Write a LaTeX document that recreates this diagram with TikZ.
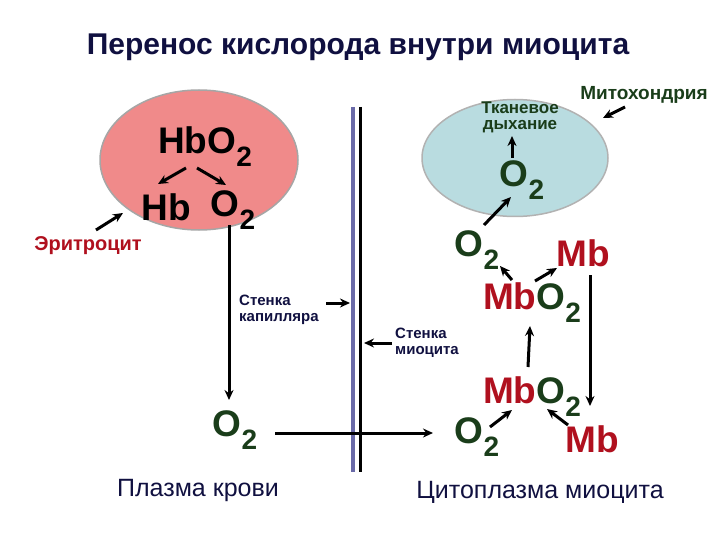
\documentclass[tikz,border=0pt]{standalone}
\usepackage{fontspec}
\setmainfont{Liberation Sans}
\usetikzlibrary{shapes.geometric,arrows.meta}
\definecolor{dgreen}{HTML}{1A3D1A}
\definecolor{dred}{HTML}{B0101E}
\definecolor{navy}{HTML}{101040}
\definecolor{pinkf}{HTML}{F08A8A}
\definecolor{bluef}{HTML}{B9DCE0}
\definecolor{wallb}{HTML}{6A6AA8}
\newcommand{\subtwo}{\raisebox{-0.35em}{\fontsize{28}{28}\selectfont 2}}
\begin{document}
\begin{tikzpicture}[x=1pt,y=-1pt,
  big/.style={font=\fontsize{37}{37}\selectfont\bfseries, inner sep=0pt},
  small/.style={font=\fontsize{15}{16}\selectfont\bfseries, align=left, inner sep=0pt, text=navy},
  bot/.style={font=\fontsize{25}{27}\selectfont, inner sep=0pt, text=navy},
  arr/.style={-{Stealth[length=10pt,width=9pt]}, line width=3pt}]
\useasboundingbox (0,0) rectangle (720,540);
\node[font=\fontsize{30}{32}\selectfont\bfseries, text=navy, inner sep=0pt] (title) at (358,47) {Перенос кислорода внутри миоцита};
% ellipses
\node[ellipse, draw=gray!70, line width=1.5pt, fill=pinkf, minimum width=198pt, minimum height=140pt, inner sep=0pt] (ery) at (199,160) {};
\node[ellipse, draw=gray!60, line width=1.5pt, fill=bluef, minimum width=186pt, minimum height=117pt, inner sep=0pt] (mito) at (515,158) {};
% wall
\draw[wallb, line width=3.5pt] (353,107) coordinate (w1) -- (353,472) coordinate (w2);
\draw[black, line width=3pt] (360,107) coordinate (w3) -- (360,472) coordinate (w4);
% left
\node[big] (hbo2) at (205,147) {HbO\subtwo};
\node[big] (hb) at (166,207) {Hb};
\node[big] (o2a) at (233,210) {O\subtwo};
\coordinate (a1) at (186,168); \coordinate (a2) at (158,184);
\coordinate (a3) at (197,168); \coordinate (a4) at (226,185);
\draw[arr] (a1) -- (a2);
\draw[arr] (a3) -- (a4);
\node[font=\fontsize{20}{21}\selectfont\bfseries, text=dred, inner sep=0pt] (ery_l) at (88,246) {Эритроцит};
\coordinate (e1) at (96,230); \coordinate (e2) at (123,213);
\draw[arr] (e1) -- (e2);
\coordinate (d1) at (229,225); \coordinate (d2) at (229,400);
\node[big, text=dgreen] (o2p) at (235,430) {O\subtwo};
\draw[arr] (d1) -- (d2);
\node[small, anchor=west] (capw) at (239,310) {Стенка\\капилляра};
\coordinate (c1) at (326,303); \coordinate (c2) at (350,303);
\draw[arr] (c1) -- (c2);
\node[small, anchor=west] (myow) at (395,343) {Стенка\\миоцита};
\coordinate (m1) at (392,343); \coordinate (m2) at (364,343);
\draw[arr] (m1) -- (m2);
\coordinate (h1) at (275,433); \coordinate (h2) at (433,433);
\draw[arr] (h1) -- (h2);
\node[bot] (plasma) at (198,490) {Плазма крови};
% right
\node[font=\fontsize{17}{16}\selectfont\bfseries, text=dgreen, align=center, inner sep=0pt] (tk) at (520,117) {Тканевое\\дыхание};
\node[big, text=dgreen] (o2m) at (522,180) {O\subtwo};
\coordinate (t2) at (512,158); \coordinate (t3) at (512,136);
\draw[arr] (t2) -- (t3);
\node[font=\fontsize{19}{20}\selectfont\bfseries, text=dgreen, inner sep=0pt] (mitol) at (644,95) {Митохондрия};
\coordinate (k1) at (625,107); \coordinate (k2) at (603,118);
\draw[arr] (k1) -- (k2);
\coordinate (u1) at (484,225); \coordinate (u2) at (511,197);
\draw[arr] (u1) -- (u2);
\node[big, text=dgreen] (o2c) at (477,250) {O\subtwo};
\node[big, text=dred] (mb1) at (583,253) {Mb};
\node[big] (mbo2a) at (532,303) {\textcolor{dred}{Mb}\textcolor{dgreen}{O\subtwo}};
\coordinate (v1) at (512,280); \coordinate (v2) at (500,266);
\coordinate (v3) at (535,281); \coordinate (v4) at (557,268);
\draw[arr] (v1) -- (v2);
\draw[arr] (v3) -- (v4);
\coordinate (y1) at (528,367); \coordinate (y2) at (530,326);
\draw[arr] (y1) -- (y2);
\coordinate (z1) at (590,275); \coordinate (z2) at (590,406);
\draw[arr] (z1) -- (z2);
\node[big] (mbo2b) at (532,397) {\textcolor{dred}{Mb}\textcolor{dgreen}{O\subtwo}};
\node[big, text=dgreen] (o2d) at (477,437) {O\subtwo};
\node[big, text=dred] (mb2) at (592,439) {Mb};
\coordinate (q1) at (490,427); \coordinate (q2) at (512,410);
\coordinate (q3) at (568,425); \coordinate (q4) at (547,409);
\draw[arr] (q1) -- (q2);
\draw[arr] (q3) -- (q4);
\node[bot] (cyto) at (540,492) {Цитоплазма миоцита};
\end{tikzpicture}
\end{document}
